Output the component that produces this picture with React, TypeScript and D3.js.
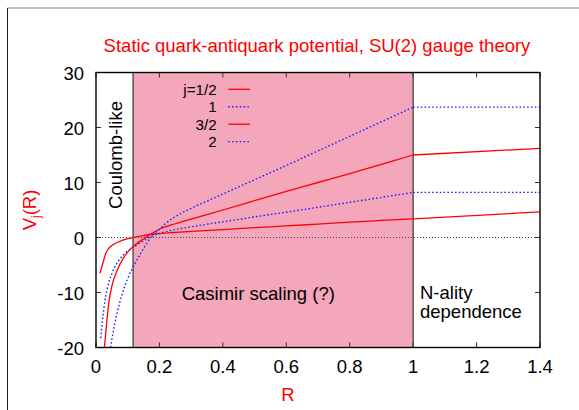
import React from "react";
import * as d3 from "d3";

// ---- data ----
const TITLE = "Static quark-antiquark potential, SU(2) gauge theory";
const X_TICKS = [0, 0.2, 0.4, 0.6, 0.8, 1.0, 1.2, 1.4];
const Y_TICKS = [-20, -10, 0, 10, 20, 30];
const CASIMIR_RANGE = [0.117, 1.0];

const R_HALF = [0.0126, 0.02, 0.025, 0.03, 0.035, 0.04, 0.05, 0.06, 0.075, 0.09, 0.11, 0.13, 0.15, 0.17, 0.2, 0.25, 0.3, 0.4, 0.5, 0.6, 0.7, 0.8, 0.9, 1.0, 1.4];
const V_HALF = [-6.5, -5.0, -4.0, -3.0, -2.4, -2.0, -1.45, -1.1, -0.7, -0.4, -0.1, 0.15, 0.35, 0.55, 0.72, 0.92, 1.1, 1.45, 1.8, 2.1, 2.45, 2.8, 3.1, 3.4, 4.65];

const R_ONE = [0.0148, 0.02, 0.028, 0.035, 0.041, 0.05, 0.057, 0.068, 0.078, 0.099, 0.125, 0.151, 0.175, 0.2, 0.25, 0.3, 0.4, 0.5, 0.6, 0.7, 0.8, 0.9, 1.0, 1.4];
const V_ONE = [-18.3, -15.3, -11.6, -9.5, -8.0, -6.6, -5.6, -4.5, -3.7, -2.5, -1.5, -0.55, 0.2, 0.75, 1.45, 1.95, 2.85, 3.75, 4.6, 5.5, 6.4, 7.3, 8.2, 8.2];

const R_THREEHALF = [0.0265, 0.034, 0.041, 0.051, 0.067, 0.088, 0.115, 0.151, 0.175, 0.2, 0.25, 0.3, 0.4, 0.5, 0.6, 0.7, 0.8, 0.9, 1.0, 1.4];
const V_THREEHALF = [-20, -15.3, -11.6, -8.6, -5.9, -3.6, -1.75, -0.2, 0.7, 1.5, 2.5, 3.35, 5.0, 6.7, 8.4, 10.0, 11.6, 13.3, 15.0, 16.2];

const R_TWO = [0.046, 0.057, 0.067, 0.083, 0.099, 0.12, 0.141, 0.151, 0.176, 0.2, 0.223, 0.25, 0.275, 0.3, 0.4, 0.5, 0.6, 0.7, 0.8, 0.9, 1.0, 1.4];
const V_TWO = [-20, -16.3, -13.6, -10.2, -7.6, -5.0, -2.9, -1.9, 0.25, 1.5, 2.7, 3.8, 4.6, 5.3, 7.9, 10.5, 13.1, 15.75, 18.4, 21.05, 23.7, 23.7];

const LEGEND_LABELS = ["j=1/2", "1", "3/2", "2"];

const SERIES = [
  { r: R_HALF, v: V_HALF, color: "#ff0000", dotted: false },
  { r: R_ONE, v: V_ONE, color: "#2020ff", dotted: true },
  { r: R_THREEHALF, v: V_THREEHALF, color: "#ff0000", dotted: false },
  { r: R_TWO, v: V_TWO, color: "#2020ff", dotted: true },
];

const FONT = "'Liberation Sans', Arial, Helvetica, sans-serif";

export default function App() {
  const W = 579, H = 410;
  const x = d3.scaleLinear().domain([0, 1.4]).range([96, 540]);
  const y = d3.scaleLinear().domain([-20, 30]).range([347.5, 72.5]);
  const [x0, x1] = x.range();
  const [yb, yt] = y.range();

  const curved = d3.line<[number, number]>().x(d => x(d[0])).y(d => y(d[1])).curve(d3.curveMonotoneX);
  const straight = d3.line<[number, number]>().x(d => x(d[0])).y(d => y(d[1]));

  const fs = 18.5;
  const tickLen = 5;

  return (
    <svg width={W} height={H} style={{ position: "absolute", left: 0, top: 0, background: "#fff" }} fontFamily={FONT}>
      <defs>
        <clipPath id="plotclip">
          <rect x={x0} y={yt} width={x1 - x0} height={yb - yt} />
        </clipPath>
      </defs>
      {/* outer frame */}
      <line x1={7.5} y1={8} x2={W} y2={8} stroke="#888" strokeWidth={1} />
      <line x1={7.5} y1={8} x2={7.5} y2={H} stroke="#222" strokeWidth={1} />

      {/* title */}
      <text x={317} y={51.5} fontSize={fs} fill="#ff0000" textAnchor="middle">{TITLE}</text>

      {/* Casimir region */}
      <rect x={x(CASIMIR_RANGE[0])} y={yt} width={x(CASIMIR_RANGE[1]) - x(CASIMIR_RANGE[0])} height={yb - yt} fill="#f4a6ba" />
      {CASIMIR_RANGE.map((r, i) => (
        <line key={i} x1={x(r)} x2={x(r)} y1={yt} y2={yb} stroke="#555" strokeWidth={1.5} />
      ))}

      {/* zero line */}
      <line x1={x0} x2={x1} y1={y(0)} y2={y(0)} stroke="#444" strokeWidth={1} strokeDasharray="1,2" />

      {/* ticks */}
      {X_TICKS.map((t, i) => (
        <g key={"xt" + i}>
          <line x1={x(t)} x2={x(t)} y1={yb} y2={yb - tickLen} stroke="#333" strokeWidth={1} />
          <line x1={x(t)} x2={x(t)} y1={yt} y2={yt + tickLen} stroke="#333" strokeWidth={1} />
          <text x={x(t)} y={yb + 25} fontSize={fs} textAnchor="middle" fill="#000">{d3.format("")(t)}</text>
        </g>
      ))}
      {Y_TICKS.map((t, i) => (
        <g key={"yt" + i}>
          <line x1={x0} x2={x0 + tickLen} y1={y(t)} y2={y(t)} stroke="#333" strokeWidth={1} />
          <line x1={x1} x2={x1 - tickLen} y1={y(t)} y2={y(t)} stroke="#333" strokeWidth={1} />
          <text x={84} y={y(t) + 7.5} fontSize={fs} textAnchor="end" fill="#000">{t}</text>
        </g>
      ))}

      {/* curves */}
      <g clipPath="url(#plotclip)">
        {SERIES.map((s, i) => {
          const pts: [number, number][] = s.r.map((r, k) => [r, s.v[k]]);
          const inner = pts.filter(p => p[0] <= 1.0);
          const outer = pts.filter(p => p[0] >= 1.0);
          const common = {
            fill: "none",
            stroke: s.color,
            strokeWidth: s.dotted ? 1.4 : 1.3,
            strokeDasharray: s.dotted ? "1.6,2.2" : undefined,
          };
          return (
            <g key={i}>
              <path d={curved(inner) || ""} {...common} />
              <path d={straight(outer) || ""} {...common} />
            </g>
          );
        })}
      </g>

      {/* frame */}
      <rect x={x0} y={yt} width={x1 - x0} height={yb - yt} fill="none" stroke="#000" strokeWidth={1.4} />

      {/* legend */}
      {LEGEND_LABELS.map((lab, i) => {
        const ly = 89.3 + i * 17.45;
        const s = SERIES[i];
        return (
          <g key={"lg" + i}>
            <text x={216.7} y={ly + 5.6} fontSize={15.2} textAnchor="end" fill="#000">{lab}</text>
            <line x1={228.3} x2={250} y1={ly} y2={ly} stroke={s.color} strokeWidth={s.dotted ? 1.4 : 1.3} strokeDasharray={s.dotted ? "1.6,2.2" : undefined} />
          </g>
        );
      })}

      {/* annotations */}
      <text transform={`translate(121.5,155) rotate(-90)`} fontSize={fs} textAnchor="middle" fill="#000">Coulomb-like</text>
      <text x={181.7} y={300} fontSize={fs} fill="#000">Casimir scaling (?)</text>
      <text x={420} y={299.3} fontSize={fs} fill="#000">N-ality</text>
      <text x={420} y={318.3} fontSize={fs} fill="#000">dependence</text>

      {/* axis labels */}
      <text x={288} y={401} fontSize={fs} fill="#ff0000" textAnchor="middle">R</text>
      <text transform={`translate(36,210) rotate(-90)`} fontSize={fs} fill="#ff0000" textAnchor="middle">
        V<tspan fontSize={12} dy={4}>j</tspan><tspan dy={-4}>(R)</tspan>
      </text>
    </svg>
  );
}
